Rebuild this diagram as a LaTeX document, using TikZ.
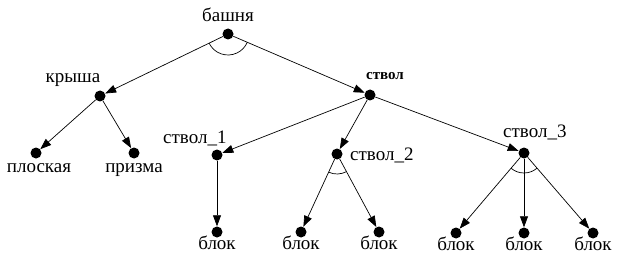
\documentclass[tikz,border=0pt]{standalone}
\usepackage{fontspec}
\setmainfont{Liberation Serif}
\usetikzlibrary{arrows.meta,angles}
\begin{document}
\begin{tikzpicture}[x=1pt,y=1pt,
  dot/.style={circle,fill=black,inner sep=0pt,minimum size=11pt},
  lbl/.style={anchor=base,inner sep=0pt,font=\fontsize{19}{22}\selectfont},
  lblw/.style={anchor=base west,inner sep=0pt,font=\fontsize{19}{22}\selectfont},
  arr/.style={line width=0.7pt,-{Triangle[length=11pt,width=8pt]}},
  ang/.style={draw,line width=0.7pt,angle radius=21pt}]
\useasboundingbox (0,0) rectangle (619,-262);
% dots
\node[dot] (bashnya) at (228,-34) {};
\node[dot] (krysha) at (100,-96) {};
\node[dot] (stvol) at (370,-95) {};
\node[dot] (plosk) at (36,-153) {};
\node[dot] (prizma) at (134,-153) {};
\node[dot] (s1) at (217,-155) {};
\node[dot] (s2) at (337,-154) {};
\node[dot] (s3) at (524,-153) {};
\node[dot] (b1) at (217,-232) {};
\node[dot] (b2) at (301,-232) {};
\node[dot] (b3) at (379,-232) {};
\node[dot] (b4) at (456,-233) {};
\node[dot] (b5) at (524,-233) {};
\node[dot] (b6) at (593,-233) {};
% labels
\node[lbl] (tbashnya) at (228,-22) {башня};
\node[lbl] (tkrysha) at (73,-83) {крыша};
\node[lbl,font=\fontsize{15}{18}\selectfont\bfseries] (tstvol) at (385,-80) {ствол};
\node[lbl] (tplosk) at (39,-172) {плоская};
\node[lbl] (tprizma) at (134,-172) {призма};
\node[lblw] (ts1) at (163,-143) {ствол\_1};
\node[lblw] (ts2) at (350,-160) {ствол\_2};
\node[lblw] (ts3) at (503,-138) {ствол\_3};
\foreach \b in {b1,b2,b3,b4,b5,b6}{
  \node[lbl] (t\b) at ([yshift=-17pt]\b.center) {блок};
}
% edges
\draw[arr] (bashnya) -- (krysha);
\draw[arr] (bashnya) -- (stvol);
\draw[arr] (krysha) -- (plosk);
\draw[arr] (krysha) -- (prizma);
\draw[arr] (stvol) -- (s1);
\draw[arr] (stvol) -- (s2);
\draw[arr] (stvol) -- (s3);
\draw[arr] (s1) -- (b1);
\draw[arr] (s2) -- (b2);
\draw[arr] (s2) -- (b3);
\draw[arr] (s3) -- (b4);
\draw[arr] (s3) -- (b5);
\draw[arr] (s3) -- (b6);
% arcs
\pic[ang] {angle=krysha--bashnya--stvol};
\pic[ang,angle radius=20pt] {angle=b2--s2--b3};
\pic[ang,angle radius=20pt] {angle=b4--s3--b6};
\end{tikzpicture}
\end{document}
